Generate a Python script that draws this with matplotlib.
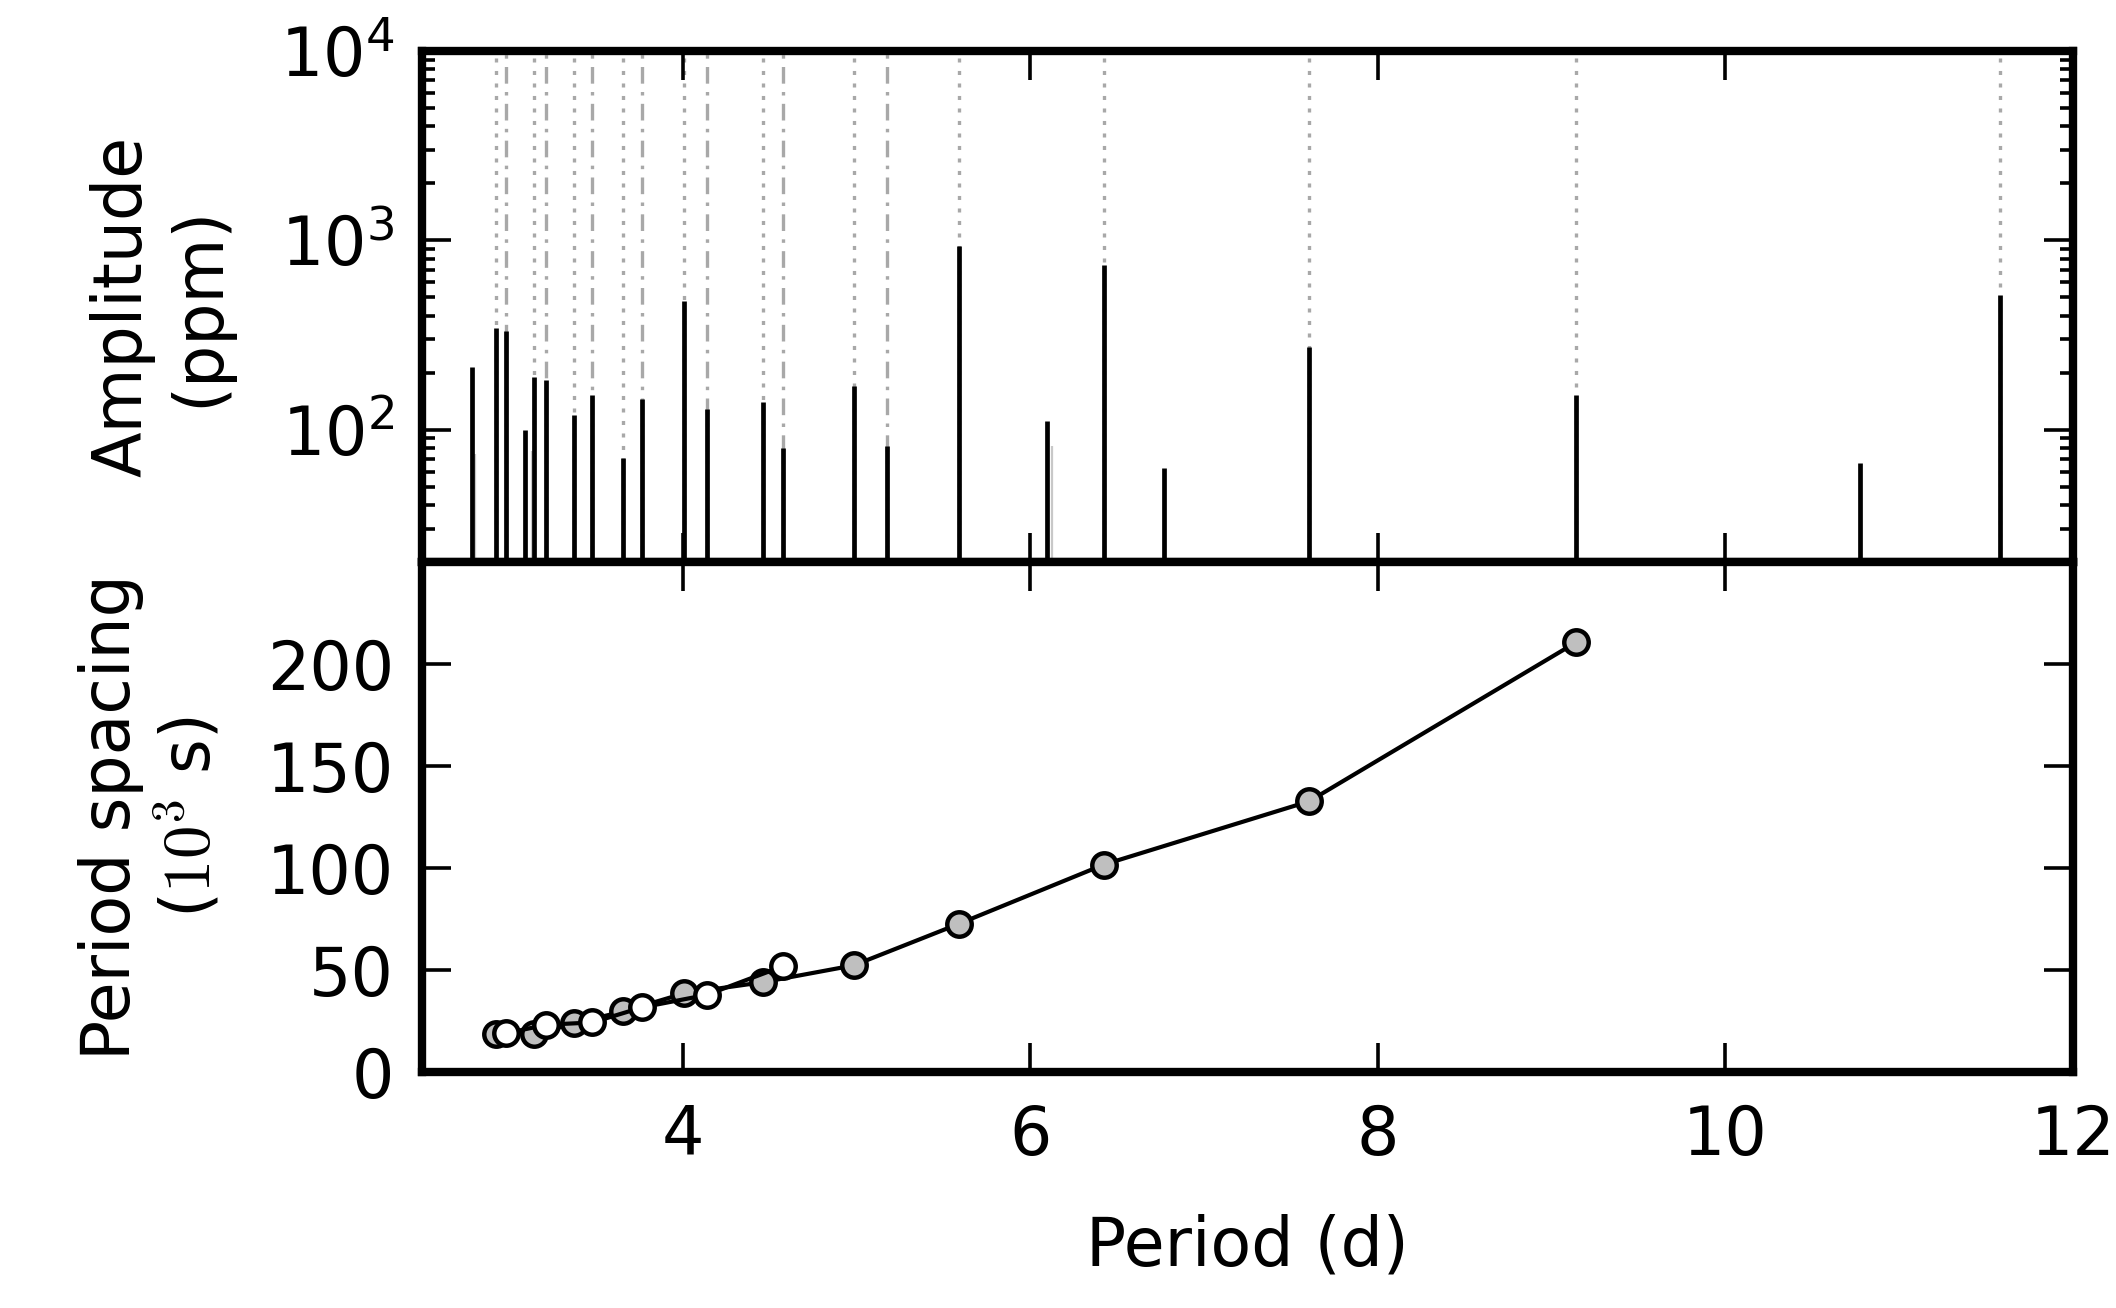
import matplotlib

matplotlib.use("Agg")
import matplotlib.pyplot as plt  # noqa: E402

# --- amplitude spectrum (top panel) ---
stem_period = [2.790, 2.928, 2.985, 3.094, 3.146, 3.216, 3.377, 3.481, 3.659, 3.767, 4.010,
               4.138, 4.460, 4.575, 4.985, 5.177, 5.588, 6.099, 6.424, 6.770, 7.604, 9.140,
               10.774, 11.578]
stem_amp = [215, 343, 331, 100, 189, 182, 120, 152, 71, 145, 476,
            129, 140, 80, 170, 82, 930, 111, 740, 62.5, 275, 152,
            66.5, 514]
faint_period = [2.806, 3.132, 6.124]
faint_amp = [74, 77, 82]

# modes marked with dotted lines (first sequence) and dash-dot lines (second sequence)
seq1_lines = [2.928, 3.146, 3.377, 3.659, 4.010, 4.460, 4.985, 5.588, 6.424, 7.604, 9.140, 11.578]
seq2_lines = [2.985, 3.216, 3.481, 3.767, 4.138, 4.575, 5.177]

# --- period spacing (bottom panel), 10^3 s ---
seq1_period = [2.928, 3.146, 3.377, 3.659, 4.010, 4.460, 4.985, 5.588, 6.424, 7.604, 9.140]
seq1_spacing = [18.7, 18.6, 23.9, 29.7, 38.6, 44.0, 52.3, 72.6, 101.7, 132.7, 210.6]
seq2_period = [2.985, 3.216, 3.481, 3.767, 4.138, 4.575]
seq2_spacing = [19.0, 23.2, 24.3, 31.7, 37.8, 51.8]

GREY_LINE = "#a8a8a8"
FILL = "#bfbfbf"

plt.rcParams.update({
    "font.family": "DejaVu Sans",
    "font.size": 24,
    "mathtext.fontset": "cm",
    "axes.linewidth": 3.0,
    "xtick.direction": "in",
    "ytick.direction": "in",
    "xtick.top": True,
    "ytick.right": True,
    "xtick.major.size": 10.3,
    "ytick.major.size": 10.3,
    "xtick.major.width": 1.3,
    "ytick.major.width": 1.3,
    "ytick.minor.size": 4.8,
    "ytick.minor.width": 1.3,
    "xtick.major.pad": 11,
    "ytick.major.pad": 10,
    "lines.scale_dashes": False,
})

fig = plt.figure(figsize=(10.58, 6.54), dpi=200)
ax1 = fig.add_axes([0.1994, 0.5703, 0.7803, 0.3907])
ax2 = fig.add_axes([0.1994, 0.1804, 0.7803, 0.3899])

dotted = (0, (1.45, 3.05))
dashdot = (0, (6.0, 3.0, 1.26, 3.0))
for p in seq1_lines:
    ax1.axvline(p, color=GREY_LINE, lw=1.2, linestyle=dotted, zorder=1)
for p in seq2_lines:
    ax1.axvline(p, color=GREY_LINE, lw=1.2, linestyle=dashdot, zorder=1)
ax1.vlines(faint_period, 1, faint_amp, color="#c8c8c8", lw=0.8, zorder=2)
ax1.vlines(stem_period, 1, stem_amp, color="black", lw=1.7, zorder=3)
ax1.set_yscale("log")
ax1.set_ylim(20, 1e4)
ax1.set_xlim(2.5, 12)
ax1.set_xticks([4, 6, 8, 10, 12])
ax1.tick_params(labelbottom=False)
ax1.set_ylabel("Amplitude\n(ppm)", va="center", ha="center")
ax1.yaxis.set_label_coords(-0.158, 0.5)

ax2.plot(seq1_period, seq1_spacing, "-o", color="black", lw=1.5, ms=8.8, mew=1.6,
         mfc=FILL, mec="black", zorder=3)
ax2.plot(seq2_period, seq2_spacing, "-o", color="black", lw=1.5, ms=8.8, mew=1.6,
         mfc="white", mec="black", zorder=4)
ax2.set_xlim(2.5, 12)
ax2.set_ylim(0, 250)
ax2.set_xticks([4, 6, 8, 10, 12])
ax2.set_yticks([0, 50, 100, 150, 200])
ax2.set_xlabel("Period (d)", labelpad=16)
ax2.set_ylabel("Period spacing\n($10^3$ s)", va="center", ha="center")
ax2.yaxis.set_label_coords(-0.164, 0.5)

fig.savefig("out.png", dpi=200)
